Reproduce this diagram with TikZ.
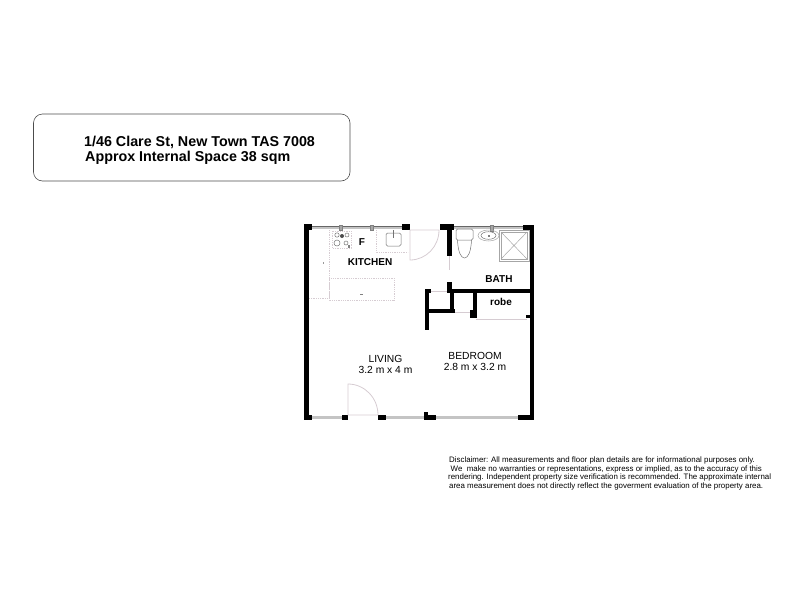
\documentclass[tikz,border=0pt]{standalone}
\usepackage{fontspec}
\setmainfont{Liberation Sans}
\definecolor{fixline}{RGB}{214,204,210}
\definecolor{winline}{RGB}{196,196,196}
\begin{document}
\begin{tikzpicture}[x=1pt,y=-1pt,
	wallfill/.style={fill=black,draw=none},
	fixture/.style={draw=fixline,line width=0.8pt,densely dotted},
	appliance/.style={draw=black!55,line width=0.5pt},
	shower/.style={draw=black!35,line width=0.5pt},
	glazing/.style={draw=winline,line width=2.4pt},
	doorline/.style={draw=fixline,line width=0.8pt},
	titleline/.style={anchor=west,inner sep=0pt,font=\bfseries\fontsize{14.3}{15}\selectfont},
	roomlabel/.style={font=\bfseries\fontsize{10}{11}\selectfont,inner sep=0pt},
	sizelabel/.style={font=\fontsize{10.3}{11.5}\selectfont,align=center,inner sep=0pt},
	smallprint/.style={anchor=west,inner sep=0pt,font=\fontsize{7.9}{9}\selectfont}]
	\useasboundingbox (0,0) rectangle (800,600);

	% address box
	\draw[black!70,line width=0.6pt,rounded corners=9pt] (33.5,114) rectangle (350,181);
	\node (address) at (84,142) [titleline]	{1/46 Clare St, New Town TAS 7008};
	\node (space) at (85,158) [titleline]	{Approx Internal Space 38 sqm};

	% windows
	\draw[glazing] (312,227.5) -- (402,227.5);
	\draw[glazing] (454,227.5) -- (523,227.5);
	\draw[glazing] (312,417.5) -- (342,417.5);
	\draw[glazing] (386,417.5) -- (424,417.5);
	\draw[glazing] (436,417.5) -- (518,417.5);
	\draw[black!60,line width=0.4pt] (312,226) -- (402,226) (454,226) -- (523,226);
	\draw[fill=black!35,draw=black!50,line width=0.3pt] (339.5,225) rectangle (342.5,230) (370,225) rectangle (373,230) (490,225) rectangle (493,231);

	% walls
	\fill[wallfill] (304,224) rectangle (312,230);
	\fill[wallfill] (304,224) rectangle (309,420);
	\fill[wallfill] (402,224) rectangle (410,230);
	\fill[wallfill] (440,224) rectangle (454,230);
	\fill[wallfill] (447,224) rectangle (452,256);
	\fill[wallfill] (523,225) rectangle (534,230);
	\fill[wallfill] (529.5,225) rectangle (534,420);
	\fill[wallfill] (447,282) rectangle (452,293);
	\fill[wallfill] (447,288.5) rectangle (530,293);
	\fill[wallfill] (425,288.5) rectangle (431,292.5);
	\fill[wallfill] (425,288.5) rectangle (429,330);
	\fill[wallfill] (449.5,293) rectangle (453.5,312);
	\fill[wallfill] (425,308.5) rectangle (455,312.5);
	\fill[wallfill] (472.5,293) rectangle (476.5,318);
	\fill[wallfill] (470,310) rectangle (476.5,318);
	\fill[wallfill] (526,315) rectangle (530,318);
	\fill[wallfill] (304,415) rectangle (312,420);
	\fill[wallfill] (342,415) rectangle (348,420);
	\fill[wallfill] (378,415) rectangle (386,420);
	\fill[wallfill] (424,415) rectangle (436,420);
	\fill[wallfill] (424,412) rectangle (428,415);
	\fill[wallfill] (518,415) rectangle (534,420);

	% doors
	\draw[doorline] (410,230) -- (410,260) arc (90:0:29 and 30) -- cycle;
	\draw[doorline] (348,415) -- (348,384) arc (-90:0:30 and 31) -- cycle;
	\draw[doorline] (449.5,256) -- (449.5,270);
	\draw[doorline] (431,291) -- (447,291);
	\draw[doorline] (455,312) -- (470,312);
	\draw[doorline] (476,319) -- (527,319);

	% kitchen
	\draw[fixture] (329,230) -- (329,300);
	\draw[fixture] (329,278) rectangle (394,300);
	\draw[fixture] (309,298) -- (329,298);
	\draw[fixture] (376,230) |- (408,252);
	\draw[fixture] (332,231) rectangle (351,248);
	\foreach \cx/\cy/\cr in {337/235/2.2,347/235/2,337/243/3,346/243/2}
		\draw[appliance] (\cx,\cy) circle (\cr);
	\fill[black!70] (342,236) circle (2);
	\fill[black!50] (348,245) rectangle (350,248);
	\draw[appliance,rounded corners=1.5pt] (386,233) rectangle (401,246);
	\draw[appliance] (393.5,230) -- (393.5,238);
	\fill[black!40] (323,262) rectangle (324,264);
	\fill[black!50] (360,294) rectangle (363,295);
	\node (fridge) at (362,242) [roomlabel]	{F};
	\node (kitchen) at (370,262) [roomlabel]	{KITCHEN};

	% bath
	\draw[appliance,rounded corners=1.5pt] (456,229) rectangle (473,240);
	\draw[appliance] (457.5,240) .. controls (458,252) and (461,258) .. (464.5,258) .. controls (468,258) and (471,252) .. (471.5,240);
	\draw[shower] (488.5,235.5) ellipse (10.5 and 5.5);
	\draw[appliance] (488.5,235.5) ellipse (7.5 and 3.8);
	\fill[black!50] (487.5,235) rectangle (490,236.5);
	\draw[shower] (499,230) rectangle (529,261);
	\draw[shower] (501,232) rectangle (527,259);
	\draw[shower] (501,232) -- (527,259) (527,232) -- (501,259);
	\node (bath) at (499,279) [roomlabel]	{BATH};
	\node (robe) at (501,302) [roomlabel]	{robe};

	% rooms
	\node (living) at (385.5,364.5) [sizelabel]	{LIVING\\3.2 m x 4 m};
	\node (bedroom) at (475,361.5) [sizelabel]	{BEDROOM\\2.8 m x 3.2 m};

	% disclaimer
	\node (disclaimer1) at (449,460) [smallprint]	{Disclaimer: All measurements and floor plan details are for informational purposes only.};
	\node (disclaimer2) at (450.5,469) [smallprint]	{We\ \ make no warranties or representations, express or implied, as to the accuracy of this};
	\node (disclaimer3) at (448,477.5) [smallprint]	{rendering. Independent property size verification is recommended. The approximate internal};
	\node (disclaimer4) at (449,486) [smallprint]	{area measurement does not directly reflect the goverment evaluation of the property area.};
\end{tikzpicture}
\end{document}
